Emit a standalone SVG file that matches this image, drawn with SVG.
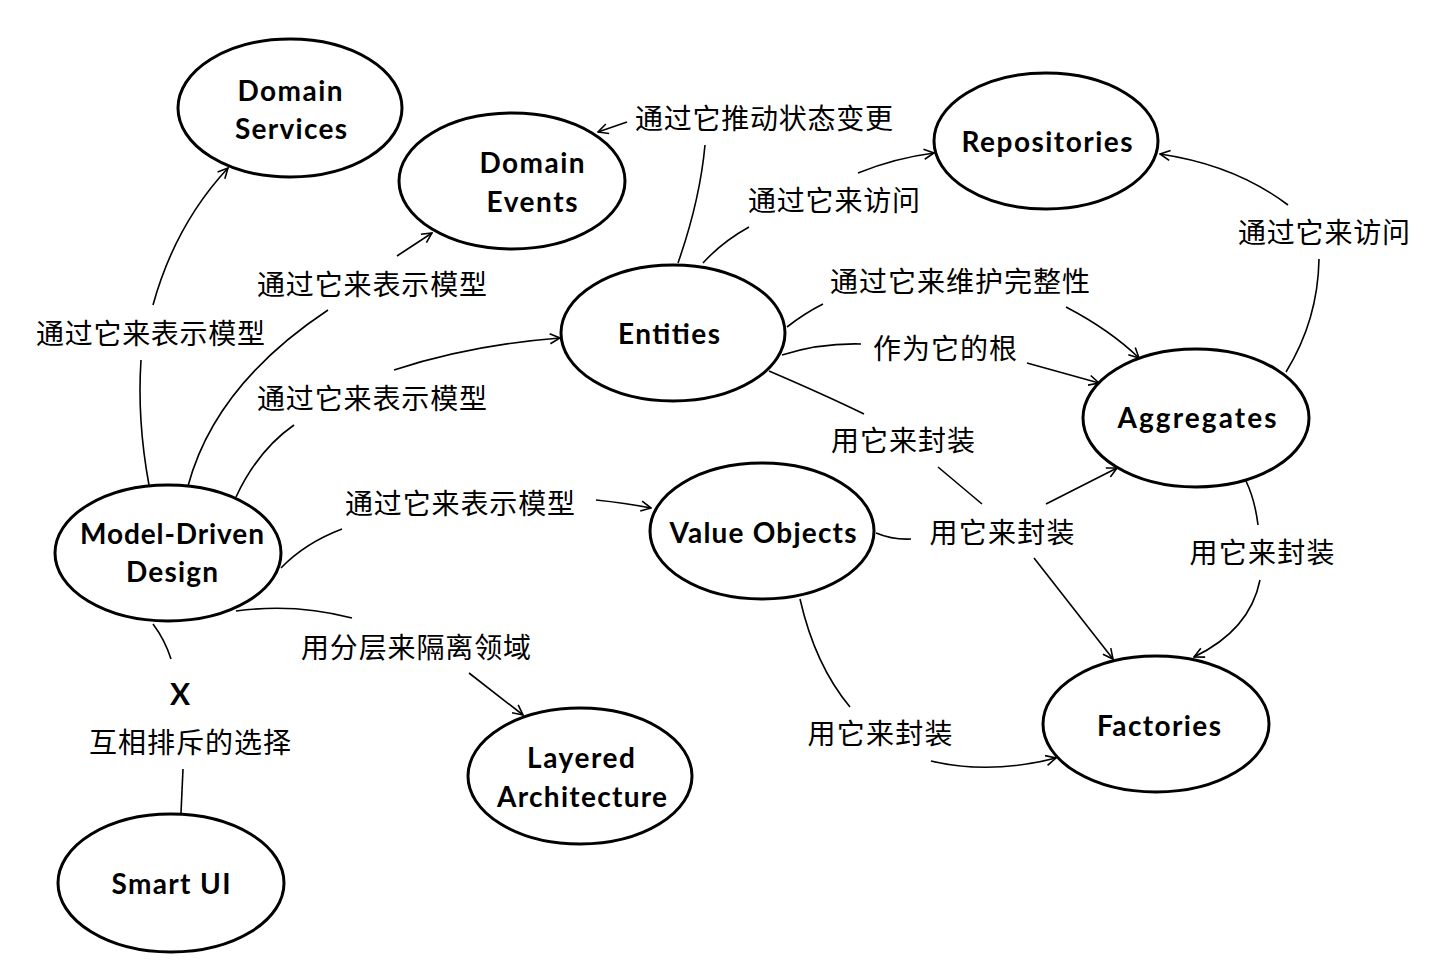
<svg xmlns="http://www.w3.org/2000/svg" width="1439" height="964" viewBox="0 0 1439 964">
<defs>
<marker id="arr" viewBox="0 0 12 12" refX="11" refY="6" markerWidth="12" markerHeight="12" markerUnits="userSpaceOnUse" orient="auto">
<path d="M1,1 L11,6 L1,11" fill="none" stroke="#000" stroke-width="1.6"/>
</marker>
<style>
.n ellipse{fill:#fff;stroke:#000;stroke-width:3}
.n text{font-family:Lato,"Open Sans","Liberation Sans",sans-serif;font-weight:bold;font-size:28px;text-anchor:middle;fill:#000}
.c path{fill:none;stroke:#000;stroke-width:1.6}
.l text{font-family:"Noto Sans CJK SC","Noto Sans",sans-serif;font-size:28px;text-anchor:middle;fill:#000}
</style>
</defs>
<rect width="1439" height="964" fill="#fff"/>
<g class="c" id="connectors">
<path d="M149,485 Q137,420 141,360"/>
<path d="M153,305 Q175,225 228,168" marker-end="url(#arr)"/>
<path d="M188,486 Q215,385 328,310"/>
<path d="M397,256 L432,233" marker-end="url(#arr)"/>
<path d="M236,497 Q258,450 294,425"/>
<path d="M394,370 Q470,345 560,338" marker-end="url(#arr)"/>
<path d="M281,568 Q305,543 342,529"/>
<path d="M596,500 Q625,503 651,508" marker-end="url(#arr)"/>
<path d="M236,611 Q295,603 352,618"/>
<path d="M469,673 L523,715" marker-end="url(#arr)"/>
<path d="M153,624 Q165,640 171,659"/>
<path d="M183,769 L181,813"/>
<path d="M678,263 Q700,200 705,145"/>
<path d="M627,122 L598,132" marker-end="url(#arr)"/>
<path d="M703,263 Q722,242 749,227"/>
<path d="M858,173 Q895,158 934,153" marker-end="url(#arr)"/>
<path d="M787,327 Q805,313 823,304"/>
<path d="M1066,307 Q1110,330 1139,358" marker-end="url(#arr)"/>
<path d="M782,355 Q820,343 861,344"/>
<path d="M1027,363 L1099,383" marker-end="url(#arr)"/>
<path d="M769,371 Q825,395 864,414"/>
<path d="M938,467 L982,504"/>
<path d="M1034,558 L1113,659" marker-end="url(#arr)"/>
<path d="M876,533 Q893,540 911,539"/>
<path d="M1046,504 L1117,468" marker-end="url(#arr)"/>
<path d="M1286,372 Q1318,320 1319,259"/>
<path d="M1288,205 Q1235,165 1160,154" marker-end="url(#arr)"/>
<path d="M1246,481 Q1255,500 1258,525"/>
<path d="M1260,580 Q1250,630 1194,657" marker-end="url(#arr)"/>
<path d="M800,599 Q815,665 850,707"/>
<path d="M931,761 Q990,775 1056,758" marker-end="url(#arr)"/>
</g>
<g class="l" id="labels">
<text x="150.5" y="344" textLength="229">通过它来表示模型</text>
<text x="372" y="295" textLength="230">通过它来表示模型</text>
<text x="372" y="409" textLength="230">通过它来表示模型</text>
<text x="460" y="514" textLength="230">通过它来表示模型</text>
<text x="416" y="658" textLength="230">用分层来隔离领域</text>
<text x="190" y="753" textLength="202">互相排斥的选择</text>
<text x="764" y="129" textLength="258">通过它推动状态变更</text>
<text x="834" y="211" textLength="172">通过它来访问</text>
<text x="1324" y="243" textLength="172">通过它来访问</text>
<text x="960" y="292" textLength="260">通过它来维护完整性</text>
<text x="945" y="359" textLength="144">作为它的根</text>
<text x="903" y="451" textLength="144">用它来封装</text>
<text x="1002" y="543" textLength="145">用它来封装</text>
<text x="1262" y="563" textLength="145">用它来封装</text>
<text x="880" y="744" textLength="145">用它来封装</text>
</g>
<g class="n" id="domain-services"><ellipse cx="290" cy="108" rx="112" ry="69"/><text x="290" y="101" textLength="105">Domain</text><text x="291" y="139" textLength="112">Services</text></g>
<g class="n" id="domain-events"><ellipse cx="512" cy="181" rx="113" ry="68"/><text x="532" y="173" textLength="105">Domain</text><text x="532" y="212" textLength="91">Events</text></g>
<g class="n" id="repositories"><ellipse cx="1046" cy="141" rx="112" ry="68"/><text x="1047" y="152" textLength="171">Repositories</text></g>
<g class="n" id="entities"><ellipse cx="673" cy="333" rx="112" ry="68"/><text x="669" y="344" textLength="102">Entities</text></g>
<g class="n" id="aggregates"><ellipse cx="1196" cy="418" rx="113" ry="69"/><text x="1197" y="428" textLength="159">Aggregates</text></g>
<g class="n" id="model-driven-design"><ellipse cx="168" cy="553" rx="113" ry="68"/><text x="172" y="544" textLength="184">Model-Driven</text><text x="172" y="582" textLength="92">Design</text></g>
<g class="n" id="value-objects"><ellipse cx="762" cy="531" rx="112" ry="68"/><text x="763" y="543" textLength="187">Value Objects</text></g>
<g class="n" id="factories"><ellipse cx="1156" cy="724" rx="113" ry="68"/><text x="1159" y="736" textLength="124">Factories</text></g>
<g class="n" id="layered-architecture"><ellipse cx="580" cy="776" rx="112" ry="68"/><text x="581" y="768" textLength="108">Layered</text><text x="582" y="807" textLength="170">Architecture</text></g>
<g class="n" id="smart-ui"><ellipse cx="171" cy="883" rx="113" ry="69"/><text x="171" y="894" textLength="119">Smart UI</text></g>
<g class="n" id="mutex"><text x="180" y="705" style="font-size:30px">X</text></g>
</svg>
